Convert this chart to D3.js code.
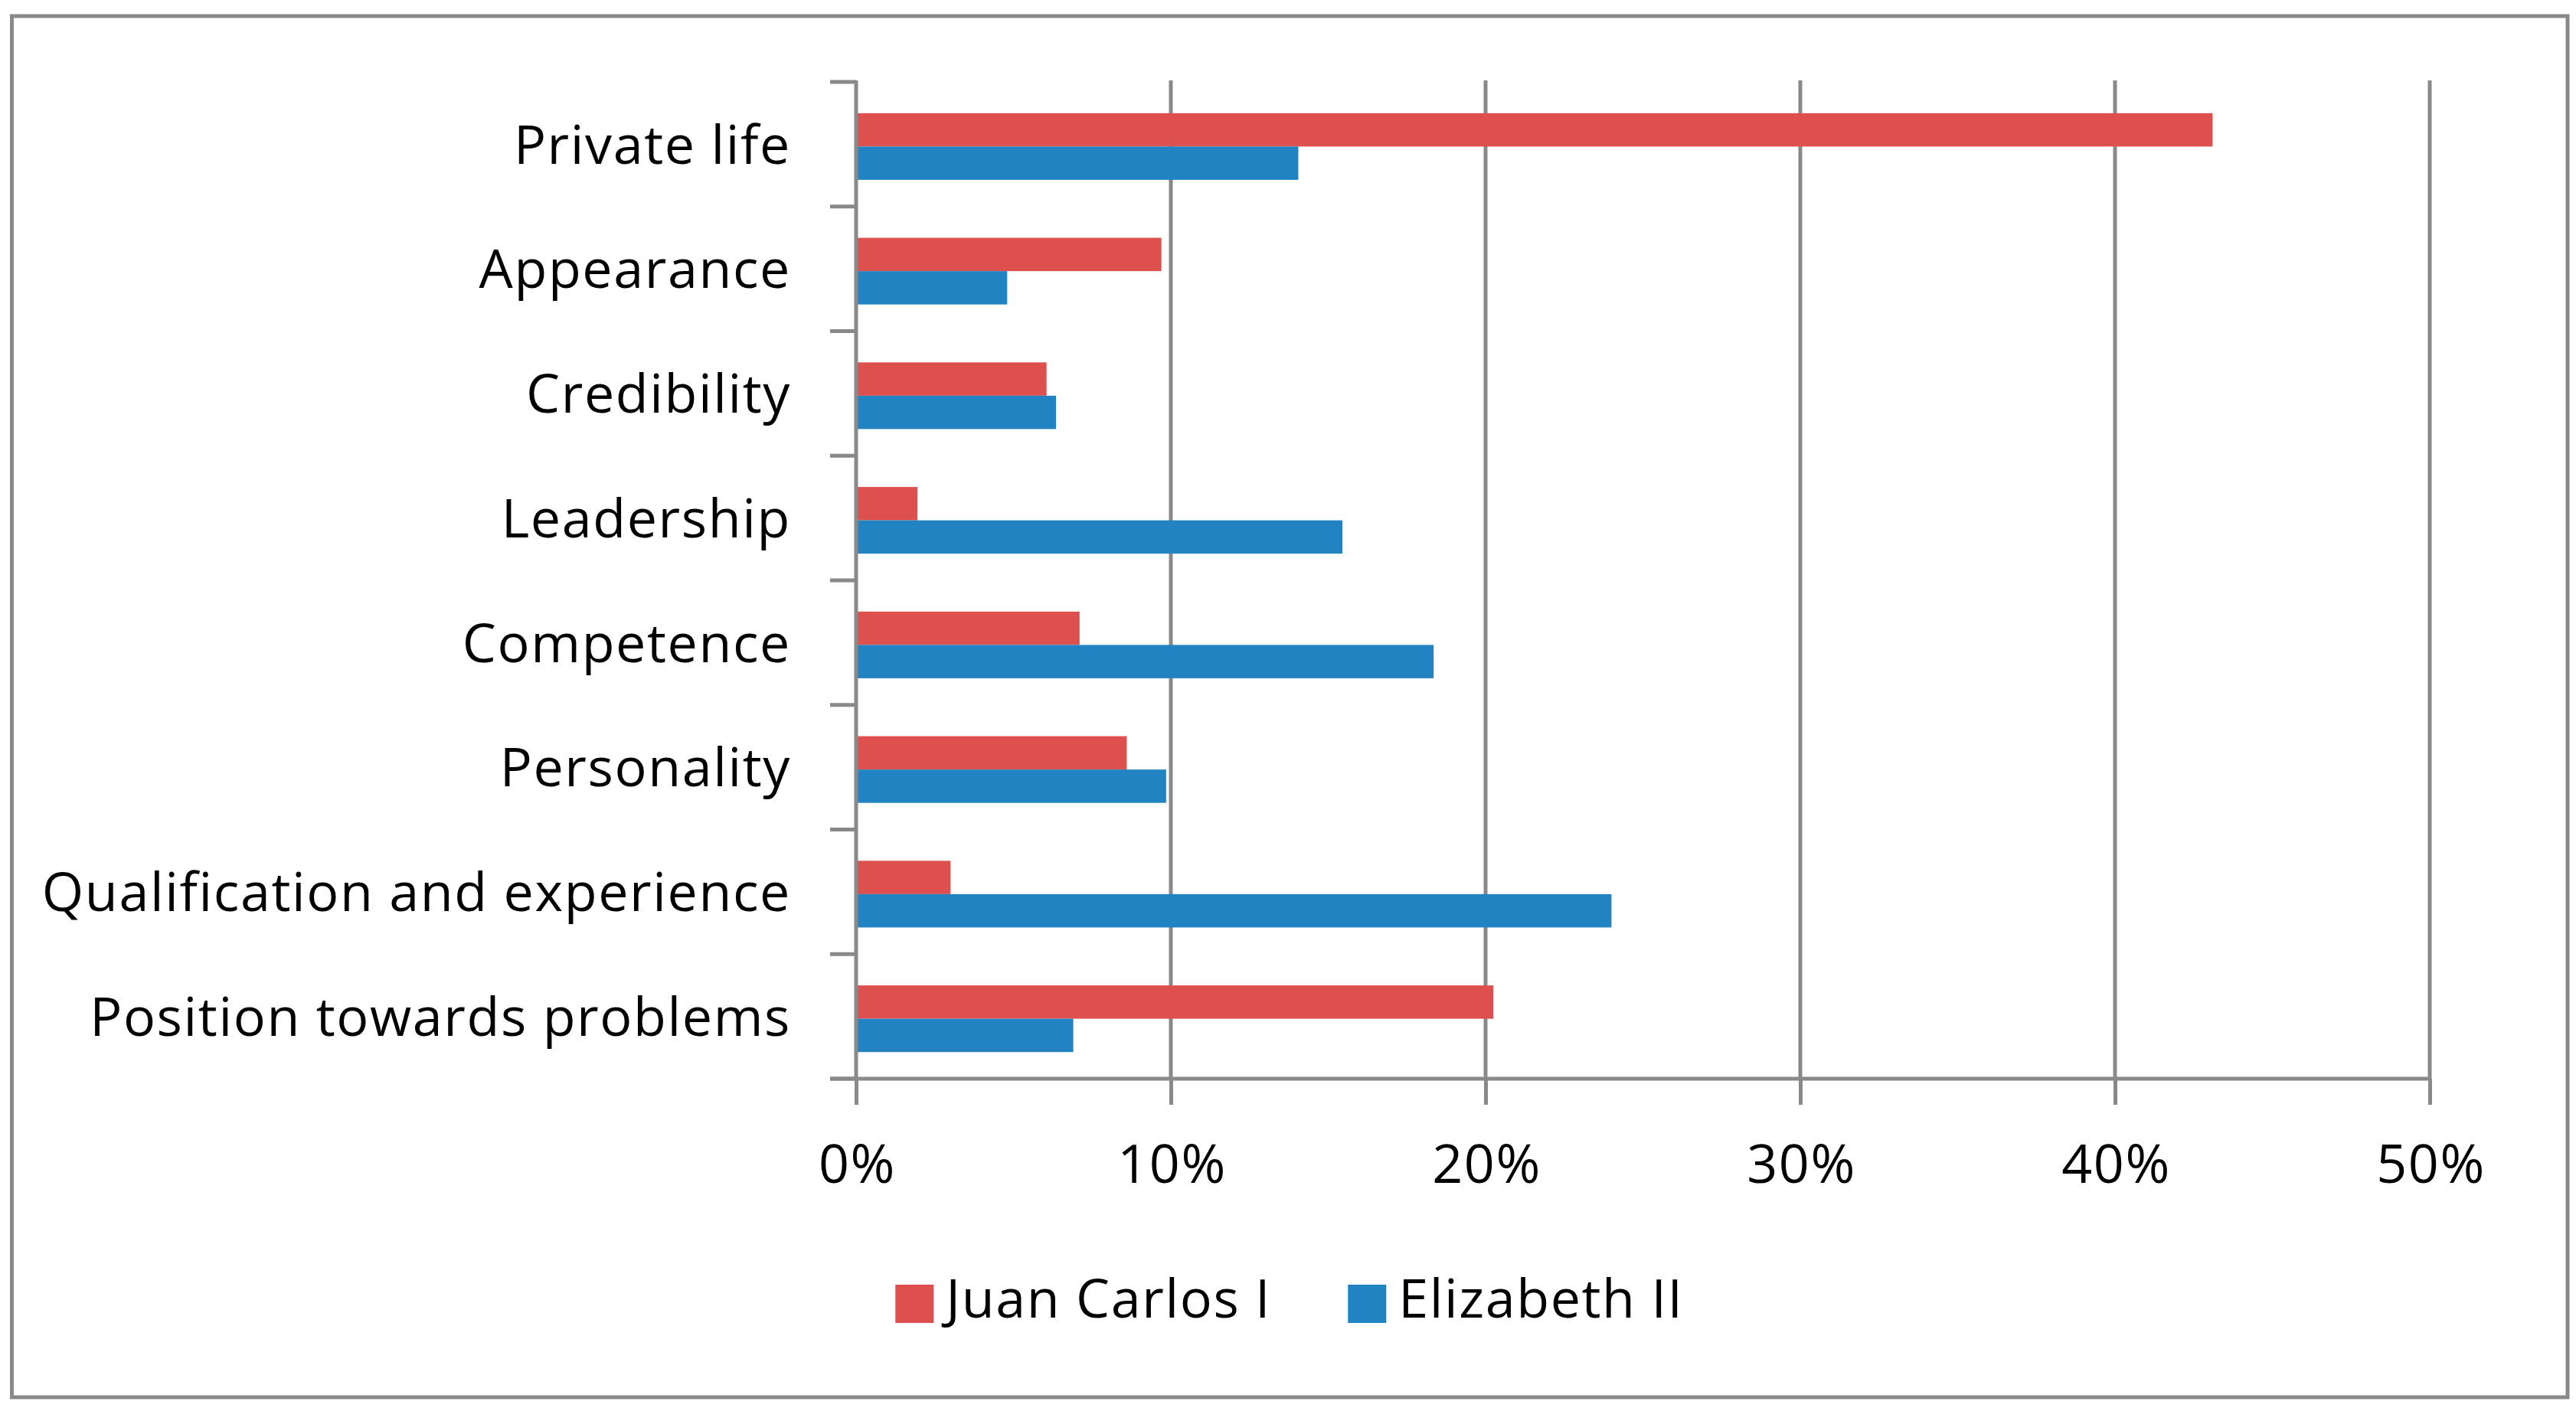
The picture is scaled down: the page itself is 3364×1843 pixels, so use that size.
<!DOCTYPE html>
<html>
<head>
<meta charset="utf-8">
<script src="https://cdn.jsdelivr.net/npm/d3@7"></script>
<style>
  body { margin: 0; background: #fff; }
  svg text { font-family: "Open Sans", Lato, sans-serif; fill: #000; letter-spacing: 1.6px; }
</style>
</head>
<body>
<svg id="chart"></svg>
<script>
// data
const categories = ["Private life", "Appearance", "Credibility", "Leadership",
    "Competence", "Personality", "Qualification and experience", "Position towards problems"];
const seriesNames = ["Juan Carlos I", "Elizabeth II"];
const juanCarlos = [0.431, 0.097, 0.0605, 0.0195, 0.071, 0.086, 0.030, 0.2025];
const elizabeth = [0.1405, 0.048, 0.0635, 0.1545, 0.1835, 0.0985, 0.240, 0.069];
const xTicks = [0, 0.1, 0.2, 0.3, 0.4, 0.5];

const width = 3364, height = 1843;
const colors = {"Juan Carlos I": "#de504e", "Elizabeth II": "#2283c2"};
const gray = "#898989";
const fontSize = 70;

// plot area
const plot = {left: 1118, right: 3173, top: 107, bottom: 1409};
const tickLen = 34;
const barShift = 3;

const svg = d3.select("#chart")
    .attr("width", width)
    .attr("height", height);

// outer frame
svg.append("rect")
    .attr("x", 15.5)
    .attr("y", 21)
    .attr("width", 3353 - 15.5)
    .attr("height", 1825 - 21)
    .attr("fill", "#fff")
    .attr("stroke", gray)
    .attr("stroke-width", 5);

const x = d3.scaleLinear().domain([0, 0.5]).range([plot.left, plot.right]);
const y = d3.scaleBand()
    .domain(categories)
    .range([plot.top, plot.bottom])
    .paddingInner(0.465)
    .paddingOuter(0.2325);
const ySub = d3.scaleBand().domain(seriesNames).range([0, y.bandwidth()]);

// vertical gridlines
svg.append("g")
    .selectAll("line")
    .data(xTicks.slice(1))
    .enter().append("line")
    .attr("x1", d => x(d))
    .attr("x2", d => x(d))
    .attr("y1", plot.top - 2)
    .attr("y2", plot.bottom)
    .attr("stroke", gray)
    .attr("stroke-width", 5);

// bars
const rows = categories.map((c, i) => ({
    category: c,
    values: [
        {name: seriesNames[0], value: juanCarlos[i]},
        {name: seriesNames[1], value: elizabeth[i]}
    ]
}));

svg.append("g")
    .selectAll("g")
    .data(rows)
    .enter().append("g")
    .attr("transform", d => `translate(0,${y(d.category) + barShift})`)
    .selectAll("rect")
    .data(d => d.values)
    .enter().append("rect")
    .attr("x", x(0))
    .attr("y", d => ySub(d.name))
    .attr("width", d => x(d.value) - x(0))
    .attr("height", ySub.bandwidth())
    .attr("fill", d => colors[d.name]);

// x axis: ticks below the line and percent labels
const xAxis = svg.append("g")
    .attr("transform", `translate(0,${plot.bottom})`)
    .call(d3.axisBottom(x)
        .tickValues(xTicks)
        .tickFormat(d3.format(".0%"))
        .tickSize(tickLen)
        .tickSizeOuter(0));
xAxis.select(".domain").remove();
xAxis.selectAll(".tick line").attr("stroke", gray).attr("stroke-width", 5);
xAxis.selectAll(".tick text")
    .attr("font-size", fontSize)
    .attr("dy", null)
    .attr("x", 1)
    .attr("y", 1545 - plot.bottom);

// category labels
const yAxis = svg.append("g")
    .attr("transform", `translate(${plot.left},0)`)
    .call(d3.axisLeft(y).tickSize(0).tickPadding(85));
yAxis.select(".domain").remove();
yAxis.selectAll(".tick text")
    .attr("font-size", fontSize)
    .attr("dy", "0.36em");

// category separator ticks on the left axis
const edges = d3.range(categories.length + 1).map(i => plot.top + i * y.step());
svg.append("g")
    .selectAll("line")
    .data(edges)
    .enter().append("line")
    .attr("x1", plot.left - tickLen)
    .attr("x2", plot.left)
    .attr("y1", d => d)
    .attr("y2", d => d)
    .attr("stroke", gray)
    .attr("stroke-width", 5);

// axis lines
svg.append("line")
    .attr("x1", plot.left).attr("x2", plot.left)
    .attr("y1", plot.top - 2).attr("y2", plot.bottom + 2)
    .attr("stroke", gray).attr("stroke-width", 5);
svg.append("line")
    .attr("x1", plot.left - tickLen).attr("x2", plot.right + 2)
    .attr("y1", plot.bottom).attr("y2", plot.bottom)
    .attr("stroke", gray).attr("stroke-width", 5);

// legend, centered on the frame
const legend = svg.append("g");
const swatch = 50, textGap = 16, itemGap = 100;
let lx = 0;
seriesNames.forEach(name => {
    const item = legend.append("g").attr("transform", `translate(${lx},0)`);
    item.append("rect")
        .attr("x", 0).attr("y", 1678)
        .attr("width", swatch).attr("height", swatch)
        .attr("fill", colors[name]);
    const t = item.append("text")
        .attr("x", swatch + textGap)
        .attr("y", 1721)
        .attr("font-size", fontSize)
        .text(name);
    lx += swatch + textGap + t.node().getComputedTextLength() + itemGap;
});
const legendWidth = lx - itemGap;
legend.attr("transform", `translate(${(15 + 3353) / 2 - legendWidth / 2},0)`);
</script>
</body>
</html>
